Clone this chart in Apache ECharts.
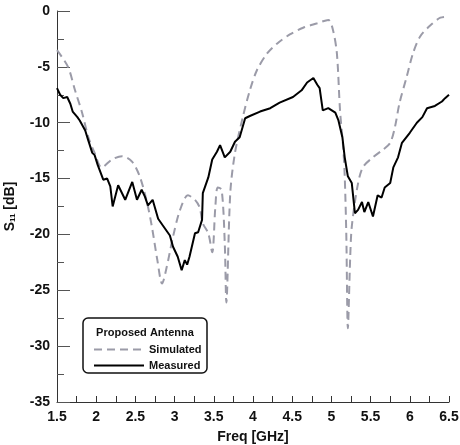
<!DOCTYPE html>
<html>
<head>
<meta charset="utf-8">
<script src="https://cdn.jsdelivr.net/npm/echarts@6/dist/echarts.min.js"></script>
<style>
  html, body { margin: 0; padding: 0; background: #fff; }
  #chart { width: 460px; height: 445px; }
</style>
</head>
<body>
<div id="chart"></div>
<script>
// simulated S11 (dashed)
var simFreq = [1.50, 1.64, 1.73, 1.82, 1.90, 1.98, 2.07, 2.20, 2.33, 2.46, 2.56, 2.65, 2.71, 2.78, 2.84,
  2.90, 2.98, 3.07, 3.17, 3.26, 3.32, 3.36, 3.43, 3.48, 3.52, 3.55, 3.60, 3.64, 3.66, 3.71, 3.77,
  3.87, 3.96, 4.05, 4.18, 4.31, 4.47, 4.64, 4.82, 4.96, 5.02, 5.07, 5.11, 5.15, 5.17, 5.19, 5.21,
  5.24, 5.26, 5.33, 5.40, 5.53, 5.66, 5.75, 5.81, 5.87, 5.96, 6.04, 6.13, 6.26, 6.39, 6.50]
var simS11 = [-3.5, -5.0, -7.1, -9.1, -11.3, -12.7, -14.0, -13.3, -13.0, -13.5, -14.9, -17.2, -19.3, -22.3, -24.4,
  -22.9, -20.2, -17.8, -16.5, -16.9, -17.6, -19.0, -19.9, -21.6, -17.5, -15.8, -16.0, -20.8, -26.1, -16.3, -12.7,
  -9.5, -7.1, -5.3, -3.8, -2.9, -2.1, -1.5, -1.1, -0.8, -1.7, -3.8, -8.9, -12.2, -14.8, -20.0, -28.4,
  -22.0, -19.3, -15.8, -14.0, -13.1, -12.4, -11.8, -10.4, -8.2, -5.9, -3.8, -2.3, -1.3, -0.6, -0.5]

// measured S11 (solid)
var measFreq = [1.50, 1.54, 1.58, 1.63, 1.67, 1.70, 1.76, 1.79, 1.86, 1.90, 1.95, 1.98, 2.02, 2.09, 2.14,
  2.18, 2.21, 2.28, 2.37, 2.46, 2.52, 2.58, 2.62, 2.66, 2.72, 2.79, 2.85, 2.94, 2.98, 3.04, 3.09,
  3.13, 3.16, 3.19, 3.26, 3.30, 3.35, 3.36, 3.43, 3.48, 3.54, 3.58, 3.64, 3.71, 3.77, 3.83, 3.90,
  3.96, 4.09, 4.22, 4.34, 4.51, 4.62, 4.69, 4.77, 4.82, 4.85, 4.89, 4.96, 5.05, 5.09, 5.14, 5.17,
  5.21, 5.26, 5.30, 5.34, 5.39, 5.42, 5.47, 5.53, 5.59, 5.64, 5.68, 5.75, 5.79, 5.85, 5.90, 6.00,
  6.09, 6.16, 6.22, 6.32, 6.41, 6.45, 6.50]
var measS11 = [-6.9, -7.5, -7.8, -7.7, -8.3, -9.0, -9.5, -9.8, -10.7, -11.6, -12.7, -12.9, -13.8, -15.1, -15.0,
  -15.7, -17.5, -15.6, -16.9, -15.3, -16.9, -16.0, -16.6, -17.4, -16.9, -18.6, -19.2, -20.1, -21.1, -22.0, -23.2,
  -22.3, -22.7, -22.0, -19.9, -19.8, -18.7, -16.3, -14.9, -13.3, -12.6, -12.0, -13.1, -12.6, -11.7, -11.3, -9.6,
  -9.4, -9.0, -8.7, -8.2, -7.7, -7.1, -6.4, -6.0, -6.6, -6.9, -8.9, -8.7, -9.1, -9.8, -11.3, -13.1,
  -14.8, -15.4, -18.1, -17.8, -17.1, -18.0, -17.1, -18.4, -16.5, -16.7, -15.8, -15.4, -14.0, -13.1, -11.8, -10.9,
  -10.0, -9.5, -8.7, -8.5, -8.1, -7.8, -7.5]

function pairs (xs, ys) {
  return xs.map(function (x, i) { return [x, ys[i]] })
}

var font = 'Liberation Sans, Arial, sans-serif'
var chart = echarts.init(document.getElementById('chart'))

var option = {
  animation: false,
  backgroundColor: '#fff',
  grid: { left: 57, right: 11, top: 11, bottom: 43, outerBoundsMode: 'none' },
  xAxis: {
    type: 'value',
    min: 1.5,
    max: 6.5,
    interval: 0.5,
    name: 'Freq [GHz]',
    nameLocation: 'middle',
    nameGap: 28,
    nameTextStyle: { fontFamily: font, fontWeight: 'bold', fontSize: 14, color: '#111' },
    axisLine: { onZero: false, lineStyle: { color: '#333', width: 1 } },
    axisTick: { inside: true, length: 6, lineStyle: { color: '#333' } },
    minorTick: { show: true, splitNumber: 2, length: 6, lineStyle: { color: '#333' } },
    axisLabel: { margin: 8, fontFamily: font, fontWeight: 'bold', fontSize: 14, color: '#111',
      formatter: function (v) { return String(v) } },
    splitLine: { show: false }
  },
  yAxis: {
    type: 'value',
    min: -35,
    max: 0,
    interval: 5,
    name: '{b|S}{s|11}{b| [dB]}',
    nameLocation: 'middle',
    nameGap: 40,
    nameTextStyle: {
      rich: {
        b: { fontFamily: font, fontWeight: 'bold', fontSize: 14, color: '#111' },
        s: { fontFamily: font, fontWeight: 'bold', fontSize: 8, color: '#111', verticalAlign: 'bottom', padding: [6, 0, 0, 0] }
      }
    },
    axisLine: { onZero: false, lineStyle: { color: '#333', width: 1 } },
    axisTick: { inside: true, length: 13, lineStyle: { color: '#555' } },
    minorTick: { show: true, splitNumber: 2, length: 7, lineStyle: { color: '#555' } },
    axisLabel: { margin: 7, fontFamily: font, fontWeight: 'bold', fontSize: 14, color: '#111' },
    splitLine: { show: false }
  },
  legend: {
    orient: 'vertical',
    left: 88,
    top: 339,
    itemWidth: 50,
    itemHeight: 10,
    itemGap: 5,
    itemStyle: { opacity: 0 },
    textStyle: { fontFamily: font, fontWeight: 'bold', fontSize: 11, color: '#111' },
    data: ['Simulated', 'Measured']
  },
  graphic: [
    {
      type: 'rect',
      shape: { x: 83, y: 318, width: 124, height: 55, r: 5 },
      style: { fill: '#fff', stroke: '#111', lineWidth: 1.5 },
      z: 0
    },
    {
      type: 'text',
      x: 145,
      y: 333,
      style: { text: 'Proposed Antenna', fontFamily: font, fontWeight: 'bold', fontSize: 11,
        fill: '#111', align: 'center', verticalAlign: 'middle' },
      z: 1
    }
  ],
  series: [
    {
      name: 'Simulated',
      type: 'line',
      data: pairs(simFreq, simS11),
      symbol: 'none',
      smooth: 0.3,
      lineStyle: { color: '#9b9ba8', width: 2, type: [8, 5] },
      itemStyle: { color: '#9b9ba8' }
    },
    {
      name: 'Measured',
      type: 'line',
      data: pairs(measFreq, measS11),
      symbol: 'none',
      lineStyle: { color: '#000', width: 2 },
      itemStyle: { color: '#000' }
    }
  ]
}

chart.setOption(option)
</script>
</body>
</html>
